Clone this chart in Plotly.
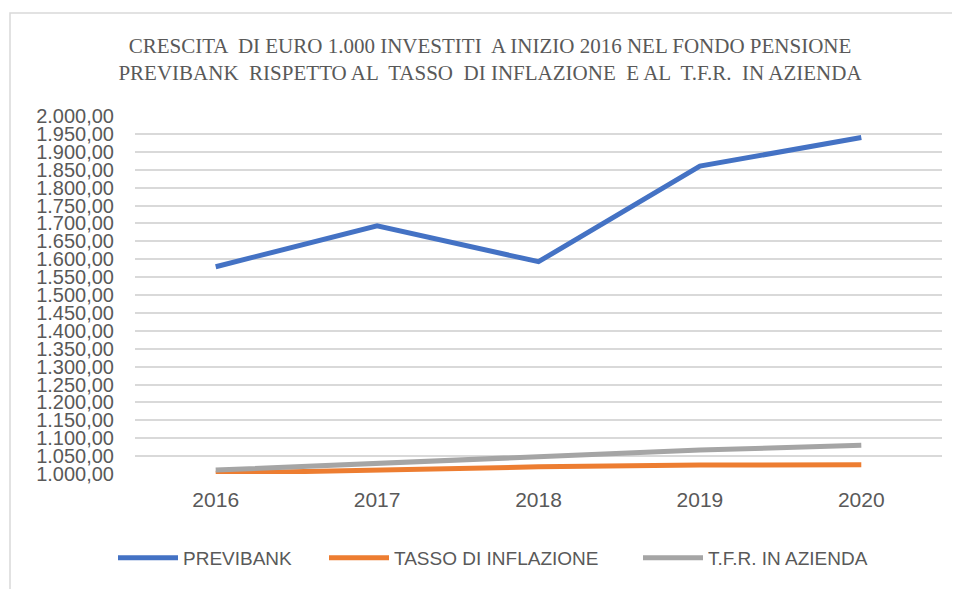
import plotly.graph_objects as go

years = ["2016", "2017", "2018", "2019", "2020"]
previbank = [1579, 1693, 1593, 1860, 1940]
inflazione = [1002, 1011, 1020, 1025, 1026]
tfr = [1011, 1030, 1050, 1067, 1080]

series = [
    ("PREVIBANK", previbank, "#4472C4", "legend", 118),
    ("TASSO DI INFLAZIONE", inflazione, "#ED7D31", "legend2", 329),
    ("T.F.R. IN AZIENDA", tfr, "#A5A5A5", "legend3", 643),
]

# page has an 8px body margin; work in page pixels and convert
OFF = 8
W, H = 960 - OFF, 589 - OFF
L, R, T, B = 135 - OFF, 18, 116 - OFF, 115
pw, ph = W - L - R, H - T - B


def px_x(page_x):
    return (page_x - OFF - L) / pw


def px_y(page_y):
    return ((H - B) - (page_y - OFF)) / ph


fig = go.Figure()
legends = {}
for name, vals, col, lg, lx in series:
    fig.add_trace(go.Scatter(x=years, y=vals, name=name, mode="lines",
                             line=dict(color=col, width=5), legend=lg))
    legends[lg] = dict(
        orientation="h", x=px_x(lx - 5), xanchor="left",
        y=px_y(558), yanchor="middle",
        font=dict(family="Liberation Sans, Arial, sans-serif", size=19, color="#595959"),
        itemwidth=60, bgcolor="rgba(0,0,0,0)",
    )

fig.update_layout(
    width=W, height=H,
    margin=dict(l=L, r=R, t=T, b=B, autoexpand=False),
    paper_bgcolor="white", plot_bgcolor="white",
    separators=",.",
    title=dict(
        text="CRESCITA  DI EURO 1.000 INVESTITI  A INIZIO 2016 NEL FONDO PENSIONE<br>PREVIBANK  RISPETTO AL  TASSO  DI INFLAZIONE  E AL  T.F.R.  IN AZIENDA",
        x=(490 - OFF) / W, xanchor="center", y=1 - 45 / H, yanchor="top",
        font=dict(family="Liberation Serif, Times New Roman, serif", size=21, color="#595959"),
    ),
    xaxis=dict(
        type="category", range=[-0.5, 4.5], showgrid=False, zeroline=False, showline=False,
        automargin=False,
        tickfont=dict(family="Liberation Sans, Arial, sans-serif", size=21, color="#595959"),
        ticks="outside", ticklen=7, tickcolor="rgba(0,0,0,0)",
    ),
    yaxis=dict(
        range=[1000, 2000], dtick=50, tick0=1000, tickformat=",.2f",
        showgrid=True, gridcolor="#D9D9D9", gridwidth=1.5, zeroline=False, showline=False,
        automargin=False,
        tickfont=dict(family="Liberation Sans, Arial, sans-serif", size=20, color="#595959"),
        ticklabelstandoff=20,
    ),
    showlegend=True,
    **legends,
)

# outer chart frame
fig.add_shape(type="rect", xref="paper", yref="paper",
              x0=px_x(10), x1=px_x(975),
              y0=px_y(600), y1=px_y(13),
              line=dict(color="#D9D9D9", width=1.5), layer="below")

fig.write_html("out.html")
